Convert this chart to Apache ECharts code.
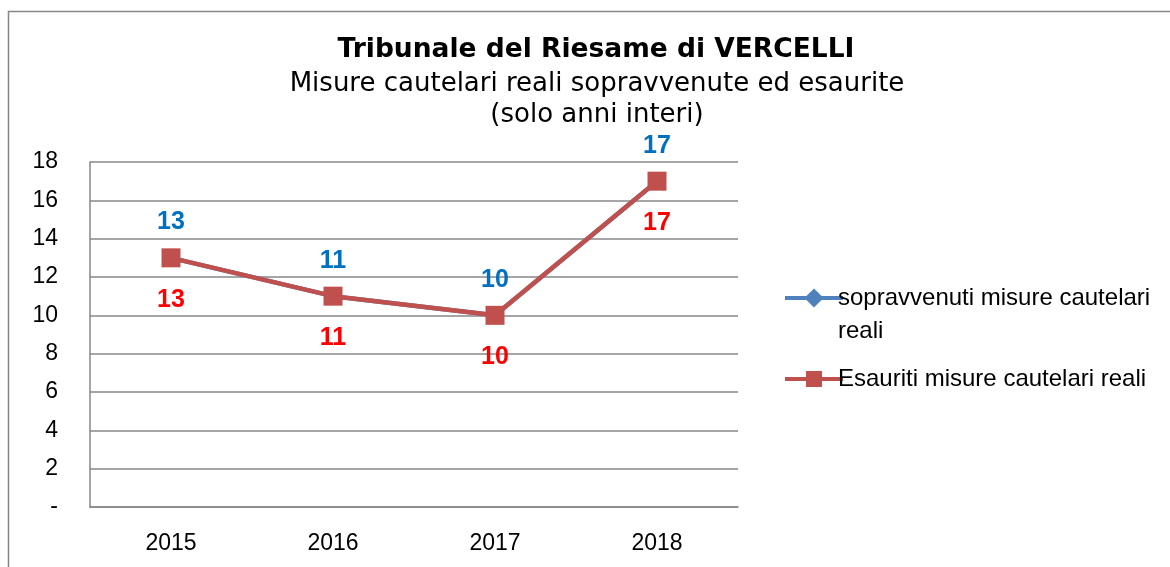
<!DOCTYPE html>
<html><head><meta charset="utf-8">
<script src="https://cdn.jsdelivr.net/npm/echarts@6/dist/echarts.min.js"></script>
<style>html,body{margin:0;padding:0;background:#fff}#c{width:1170px;height:567px}</style>
</head><body><div id="c"></div>
<script>
var categories = ['2015', '2016', '2017', '2018'];
var sopravvenuti = [13, 11, 10, 17];
var esauriti = [13, 11, 10, 17];
var yTicks = [0, 2, 4, 6, 8, 10, 12, 14, 16, 18];
var seriesNames = ['sopravvenuti misure cautelari reali', 'Esauriti misure cautelari reali'];

var chart = echarts.init(document.getElementById('c'));
var lab = 'Liberation Sans';
chart.setOption({
  animation: false,
  title: [{
    text: 'Tribunale del Riesame di VERCELLI',
    left: 596, textAlign: 'center', top: 36, padding: 0,
    textStyle: {fontFamily: 'DejaVu Sans', fontWeight: 'bold', fontSize: 26.5, color: '#000', lineHeight: 28}
  }, {
    text: 'Misure cautelari reali sopravvenute ed esaurite\n(solo anni interi)',
    left: 597, textAlign: 'center', top: 69, padding: 0,
    textStyle: {fontFamily: 'DejaVu Sans', fontWeight: 'normal', fontSize: 26, color: '#000', lineHeight: 31, align: 'center'}
  }],
  grid: {left: 90, top: 162, width: 648, height: 345, containLabel: false},
  legend: [{
    data: [seriesNames[0]], orient: 'vertical', left: 778, top: 281,
    itemWidth: 58, itemHeight: 24,
    lineStyle: {width: 4},
    formatter: function () { return 'sopravvenuti misure cautelari'; },
    textStyle: {fontFamily: lab, fontSize: 24, color: '#000', padding: [0, 0, 0, -10]}
  }, {
    data: [seriesNames[1]], orient: 'vertical', left: 778, top: 362,
    itemWidth: 58, itemHeight: 20,
    lineStyle: {width: 4},
    textStyle: {fontFamily: lab, fontSize: 24, color: '#000', padding: [0, 0, 0, -10]}
  }],
  xAxis: {
    type: 'category', data: categories, boundaryGap: true,
    axisLine: {lineStyle: {color: '#878787', width: 1.5}},
    axisTick: {show: false},
    axisLabel: {fontFamily: lab, fontSize: 23, color: '#000', margin: 25}
  },
  yAxis: {
    type: 'value', min: 0, max: 18, interval: 2,
    axisLine: {show: true, lineStyle: {color: '#878787', width: 1.5}},
    axisTick: {show: false},
    splitLine: {lineStyle: {color: '#878787', width: 1.5}},
    axisLabel: {fontFamily: lab, fontSize: 23, color: '#000', margin: 32,
      formatter: function (v) { return v === 0 ? '-' : String(v); }}
  },
  series: [{
    name: seriesNames[0], type: 'line', data: sopravvenuti,
    symbol: 'diamond', symbolSize: 16,
    lineStyle: {color: '#4F81BD', width: 4.5},
    itemStyle: {color: '#4F81BD'},
    label: {show: true, position: 'top', distance: 15,
      fontFamily: lab, fontWeight: 'bold', fontSize: 25, color: '#0070C0'},
    z: 2
  }, {
    name: seriesNames[1], type: 'line', data: esauriti,
    symbol: 'rect', symbolSize: 19,
    lineStyle: {color: '#C0504D', width: 4.5},
    itemStyle: {color: '#C0504D'},
    label: {show: true, position: 'bottom', distance: 20,
      fontFamily: lab, fontWeight: 'bold', fontSize: 25, color: '#FF0000'},
    z: 3
  }],
  graphic: [{
    type: 'rect', shape: {x: 8.5, y: 11.5, width: 1200, height: 600},
    style: {fill: 'none', stroke: '#878787', lineWidth: 1.5}, silent: true
  }, {
    type: 'text', left: 838, top: 319,
    style: {text: 'reali', font: '24px "Liberation Sans"', fill: '#000'}
  }]
});
</script></body></html>
